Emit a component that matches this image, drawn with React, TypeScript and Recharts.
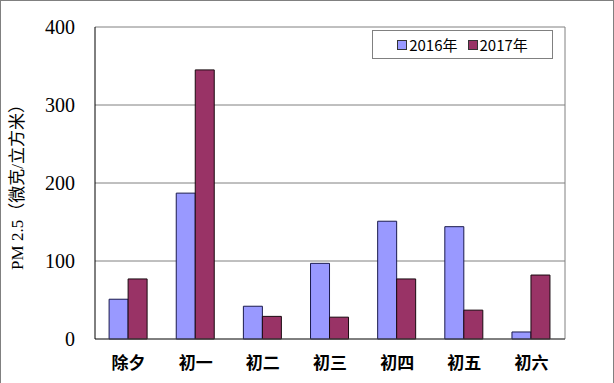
import { BarChart, Bar, XAxis, YAxis, CartesianGrid } from 'recharts';

const days = ['除夕', '初一', '初二', '初三', '初四', '初五', '初六'];
const pm2016 = [51, 187, 42, 97, 151, 144, 9];
const pm2017 = [77, 345, 29, 28, 77, 37, 82];
const yTicks = [0, 100, 200, 300, 400];

const data = days.map((day, i) => ({ day, y2016: pm2016[i], y2017: pm2017[i] }));

const seriesInfo = [
  { key: 'y2016', name: '2016年', fill: '#9999FF', stroke: '#1a1a4d' },
  { key: 'y2017', name: '2017年', fill: '#993366', stroke: '#1a0a10' },
];

function LegendBox() {
  return (
    <div
      style={{
        position: 'absolute',
        left: 371,
        top: 29,
        width: 179,
        height: 27,
        border: '1px solid #808080',
        background: '#fff',
        display: 'flex',
        alignItems: 'center',
        justifyContent: 'center',
        gap: 10,
        fontFamily: '"Noto Sans CJK SC", sans-serif',
        fontSize: 15,
        color: '#000',
      }}
    >
      {seriesInfo.map((s) => (
        <span key={s.key} style={{ display: 'flex', alignItems: 'center' }}>
          <span
            style={{
              display: 'inline-block',
              width: 8,
              height: 8,
              background: s.fill,
              border: '1px solid #333',
              marginRight: 2,
            }}
          />
          {s.name}
        </span>
      ))}
    </div>
  );
}

export default function App() {
  return (
    <div
      style={{
        position: 'absolute',
        left: 0,
        top: 0,
        width: 612,
        height: 382,
        border: '1px solid #808080',
        background: '#fff',
      }}
    >
      <BarChart
        width={610}
        height={380}
        data={data}
        margin={{ top: 26, right: 46, left: 0, bottom: 12 }}
        barCategoryGap="21%"
        barGap={0}
      >
        <CartesianGrid vertical={true} verticalPoints={[564]} stroke="#808080" strokeOpacity={1} />
        <XAxis
          dataKey="day"
          height={30}
          axisLine={{ stroke: '#404040' }}
          tickLine={false}
          tickMargin={12}
          tick={{ fontFamily: '"Noto Sans CJK SC", serif', fontSize: 17, fontWeight: 700, fill: '#000' }}
        />
        <YAxis
          width={94}
          domain={[0, 400]}
          ticks={yTicks}
          interval={0}
          axisLine={{ stroke: '#000' }}
          tickLine={false}
          tickMargin={14}
          tick={{ fontFamily: '"Liberation Serif", serif', fontSize: 20, fill: '#000' }}
          label={{
            value: 'PM 2.5（微克/立方米）',
            angle: -90,
            position: 'insideLeft',
            offset: 16,
            style: { textAnchor: 'middle', fontFamily: '"Liberation Serif", "Noto Sans CJK SC", serif', fontSize: 17, fill: '#000' },
          }}
        />
        {seriesInfo.map((s) => (
          <Bar
            key={s.key}
            dataKey={s.key}
            name={s.name}
            fill={s.fill}
            stroke={s.stroke}
            strokeWidth={1}
            isAnimationActive={false}
          />
        ))}
      </BarChart>
      <LegendBox />
    </div>
  );
}
